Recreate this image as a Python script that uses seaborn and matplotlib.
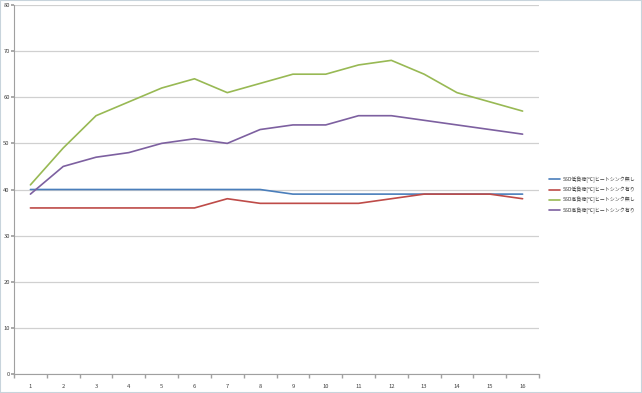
import matplotlib
matplotlib.use("Agg")
import matplotlib.pyplot as plt
import seaborn as sns
import pandas as pd
import numpy as np
from matplotlib.ticker import FixedLocator

categories = list(range(1, 17))
series_names = [
    "SSD低負荷[℃]ヒートシンク無し",
    "SSD低負荷[℃]ヒートシンク有り",
    "SSD高負荷[℃]ヒートシンク無し",
    "SSD高負荷[℃]ヒートシンク有り",
]
low_no_hs = [40, 40, 40, 40, 40, 40, 40, 40, 39, 39, 39, 39, 39, 39, 39, 39]
low_hs = [36, 36, 36, 36, 36, 36, 38, 37, 37, 37, 37, 38, 39, 39, 39, 38]
high_no_hs = [41, 49, 56, 59, 62, 64, 61, 63, 65, 65, 67, 68, 65, 61, 59, 57]
high_hs = [39, 45, 47, 48, 50, 51, 50, 53, 54, 54, 56, 56, 55, 54, 53, 52]
colors = ["#4A7EBB", "#BE4B48", "#98B954", "#7D60A0"]

df = pd.concat([
    pd.DataFrame({"x": categories, "value": vals, "series": name})
    for name, vals in zip(series_names, [low_no_hs, low_hs, high_no_hs, high_hs])
])

sns.set_theme(style="white")
plt.rcParams["font.family"] = ["Noto Sans CJK JP", "DejaVu Sans"]

fig = plt.figure(figsize=(6.42, 3.93), dpi=100)
ax = fig.add_axes([14 / 642, 19 / 393, 525 / 642, 369 / 393])

sns.lineplot(data=df, x="x", y="value", hue="series", palette=colors,
             linewidth=1.2, ax=ax, legend=True)

ax.set_xlim(0.5, 16.5)
ax.set_ylim(0, 80)
ax.set_yticks(range(0, 81, 10))
ax.set_xticks(categories)
ax.xaxis.set_minor_locator(FixedLocator(np.arange(0.5, 17, 1)))
ax.tick_params(axis="x", which="major", length=0, labelsize=4.2, pad=7, colors="#404040")
ax.tick_params(axis="x", which="minor", length=3, color="#A0A0A0", direction="out", bottom=True)
ax.tick_params(axis="y", which="major", length=2, color="#A0A0A0", direction="out",
               labelsize=4.2, pad=1, colors="#404040", left=True)
ax.yaxis.grid(True, color="#D0D0D0", linewidth=0.9)
ax.set_axisbelow(True)
for s in ["top", "right"]:
    ax.spines[s].set_visible(False)
for s in ["left", "bottom"]:
    ax.spines[s].set_color("#A0A0A0")
    ax.spines[s].set_linewidth(0.8)
ax.set_xlabel("")
ax.set_ylabel("")

leg = ax.legend(loc="center left", bbox_to_anchor=(1.015, 0.485), frameon=False,
                fontsize=3.6, handlelength=2.2, handletextpad=0.4, labelspacing=0.8,
                borderpad=0)
for t in leg.get_texts():
    t.set_color("#404040")

fig.patches.append(plt.Rectangle((0, 0), 1, 1, transform=fig.transFigure,
                                 fill=False, edgecolor="#C8D4DC", linewidth=1.5))
fig.savefig("out.png", dpi=100)
